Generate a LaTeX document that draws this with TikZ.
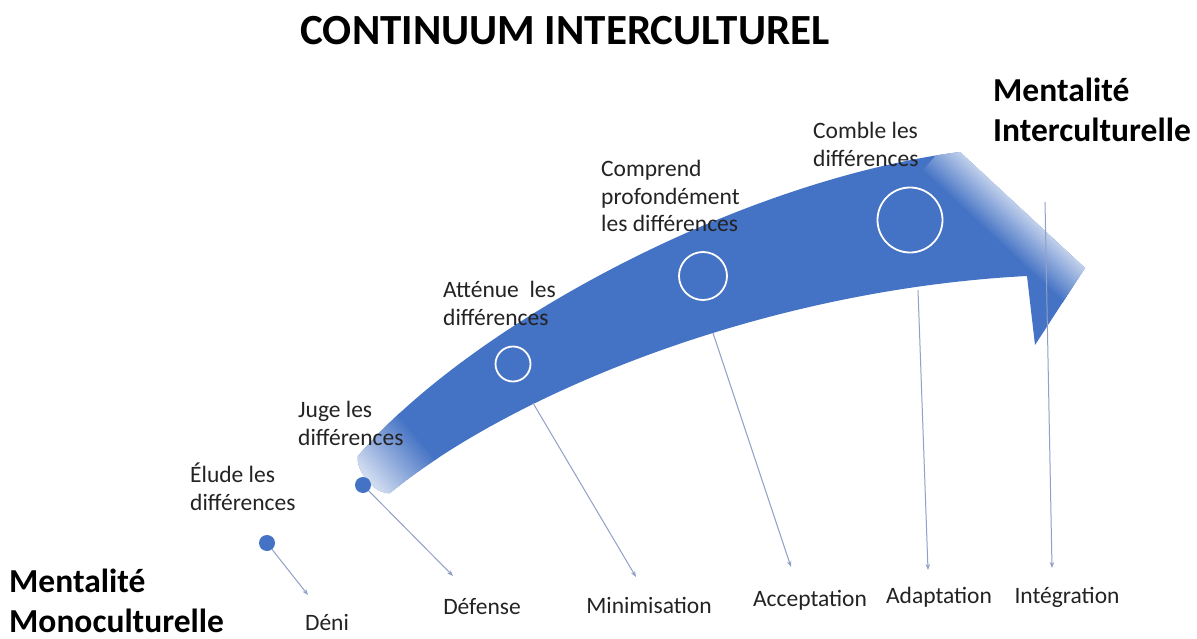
\documentclass[tikz,border=0pt]{standalone}
\usepackage{fontspec}
\setmainfont{Carlito}
\usetikzlibrary{arrows.meta,positioning}
\definecolor{bandblue}{RGB}{68,114,196}
\definecolor{linkgrey}{RGB}{145,160,198}
\definecolor{textgrey}{RGB}{35,35,35}

\begin{document}
\begin{tikzpicture}[x=1pt,y=-1pt,
  note/.style={font=\fontsize{23.5}{27.5}\selectfont,text=textgrey,align=left,anchor=north west,inner sep=0},
  stage/.style={font=\fontsize{23.5}{27.5}\selectfont,text=textgrey,anchor=base,inner sep=0},
  mind/.style={font=\bfseries\fontsize{33.5}{39.5}\selectfont,align=left,anchor=north west,inner sep=0},
  dot/.style={circle,fill=bandblue,minimum size=16pt,inner sep=0},
  ring/.style={circle,draw=white,line width=1.8pt,inner sep=0},
  link/.style={draw=linkgrey,line width=1pt,-{Stealth[length=6pt,width=4.5pt]}}]
\useasboundingbox[fill=white] (0,0) rectangle (1197,639);

% title
\node[font=\bfseries\fontsize{43}{51}\selectfont] (title) at (565,31) {CONTINUUM INTERCULTUREL};

% the curved band
\begin{scope}
  \clip (358,456) .. controls (470,325) and (740,180) .. (960,152) -- (1085,268)
     -- (1035,345) -- (1027,276) .. controls (760,290) and (510,395) .. (390,493)
     .. controls (375,495) and (355,470) .. cycle;
  \fill[bandblue] (0,0) rectangle (1197,639);
  % faded tail
  \begin{scope}[shift={(372,477)},rotate=40]
    \foreach \k in {0,...,29}{
      \pgfmathtruncatemacro\mix{12+88*\k/29}
      \fill[bandblue!\mix!white] ({-16+2.6*\k},-60) rectangle ({-16+2.6*\k+3.2},60);
    }
  \end{scope}
  % faded head
  \begin{scope}[shift={(1022,210)},rotate=47]
    \foreach \k in {0,...,29}{
      \pgfmathtruncatemacro\mix{100-88*\k/29}
      \fill[bandblue!\mix!white] ({-40+1.8*\k},-100) rectangle ({-40+1.8*\k+2.4},100);
    }
    \fill[bandblue!12!white] (14,-100) rectangle (40,100);
  \end{scope}
\end{scope}

\node[ring,minimum size=35pt] (r1) at (513,364) {};
\node[ring,minimum size=48pt] (r2) at (703,276) {};
\node[ring,minimum size=65pt] (r3) at (910,220) {};

\node[dot] (d1) at (267,543) {};
\node[dot] (d2) at (363,485) {};

% upper notes
\node[note] (n1) at (190,463) {Élude les\\différences};
\node[note] (n2) at (298,401) {Juge les\\différences};
\node[note] (n3) at (443,281) {Atténue~ les\\différences};
\node[note] (n4) at (601,160) {Comprend\\profondément\\les différences};
\node[note] (n5) at (813,122) {Comble les\\différences};

% stages
\node[stage] (deni) at (327,630) {Déni};
\node[stage] (defense) at (482,614) {Défense};
\node[stage] (minim) at (649,613) {Minimisation};
\node[stage] (accept) at (810,606) {Acceptation};
\node[stage] (adapt) at (939,603) {Adaptation};
\node[stage] (integ) at (1067,603) {Intégration};

\node[mind] (mono) at (9,569) {Mentalité\\Monoculturelle};
\node[mind] (inter) at (993,78) {Mentalité\\Interculturelle};

% links
\coordinate (s3) at (533,403);
\coordinate (s4) at (713,333);
\coordinate (s5) at (918,290);
\coordinate (s6) at (1045,202);
\coordinate (t1) at (308,595);
\coordinate (t2) at (453,576);
\coordinate (t3) at (636,577);
\coordinate (t4) at (791,567);
\coordinate (t5) at (928,570);
\coordinate (t6) at (1052,568);
\draw[link] (d1) -- (t1);
\draw[link] (d2) -- (t2);
\draw[link] (s3) -- (t3);
\draw[link] (s4) -- (t4);
\draw[link] (s5) -- (t5);
\draw[link] (s6) -- (t6);
\end{tikzpicture}
\end{document}
